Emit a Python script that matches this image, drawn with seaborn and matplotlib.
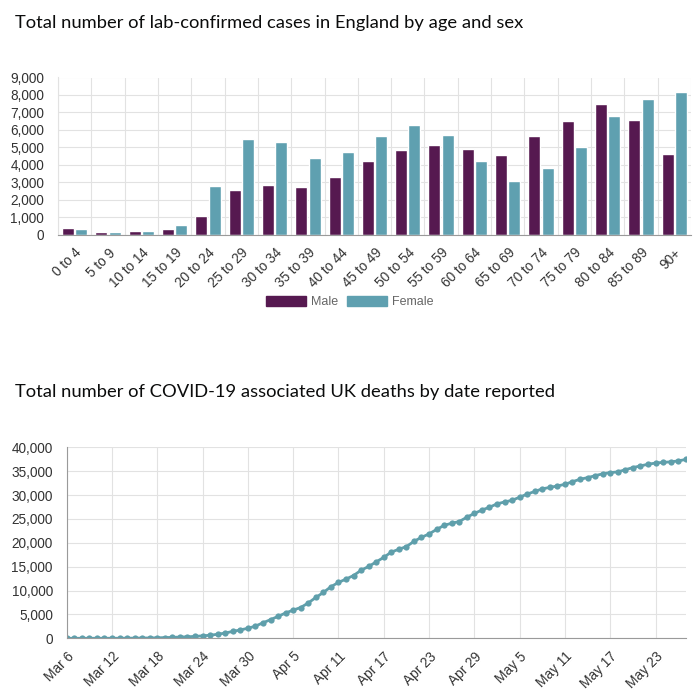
"""
COVID-19 dashboard recreation: lab-confirmed cases by age/sex (England)
and cumulative UK deaths by date reported.
"""

import numpy as np
import pandas as pd
import seaborn as sns
import matplotlib.pyplot as plt
import matplotlib.ticker as mticker
from matplotlib.patches import Patch

# ─── DATA ────────────────────────────────────────────────────────────────────
AGE_BANDS = ["0 to 4", "5 to 9", "10 to 14", "15 to 19", "20 to 24", "25 to 29",
             "30 to 34", "35 to 39", "40 to 44", "45 to 49", "50 to 54",
             "55 to 59", "60 to 64", "65 to 69", "70 to 74", "75 to 79",
             "80 to 84", "85 to 89", "90+"]
MALE_CASES = [400, 170, 190, 340, 1070, 2540, 2830, 2730, 3270, 4190, 4840,
              5120, 4910, 4530, 5660, 6530, 7470, 6550, 4600]
FEMALE_CASES = [310, 135, 190, 570, 2770, 5450, 5290, 4400, 4720, 5660, 6270,
                5710, 4200, 3040, 3820, 4990, 6800, 7760, 8180]

DEATHS_START = "2020-03-06"
CUMULATIVE_DEATHS = [
    # Mar 6 – Mar 31
    2, 3, 4, 5, 7, 9, 11, 14, 22, 36, 56, 72, 104, 145, 200, 260, 320, 400,
    520, 640, 850, 1100, 1450, 1750, 2100, 2550,
    # Apr 1 – Apr 30
    3250, 3900, 4600, 5300, 5900, 6450, 7400, 8550, 9600, 10800, 11700,
    12400, 13150, 14250, 15050, 16000, 16950, 18050, 18650, 19200, 20300,
    21150, 21850, 22800, 23650, 24100, 24450, 25350, 26150, 26850,
    # May 1 – May 27
    27450, 28150, 28550, 28900, 29550, 30200, 30750, 31300, 31600, 31900,
    32250, 32800, 33300, 33650, 34050, 34450, 34700, 34850, 35300, 35750,
    36100, 36450, 36700, 36850, 36950, 37150, 37450,
]

# ─── STYLE ───────────────────────────────────────────────────────────────────
MALE_C   = "#561950"
FEMALE_C = "#5fa0b0"
LINE_C   = "#5f9fab"
GRID_C   = "#e2e2e2"
AXIS_C   = "#9a9a9a"
TICK_TXT = "#333333"
TITLE_FONT = dict(fontsize=13.2, family="Lato", color="#0b0c0c", va="baseline")

sns.set_style("white")
plt.rcParams["font.family"] = ["Liberation Sans", "DejaVu Sans"]

comma_fmt = mticker.FuncFormatter(lambda v, _: f"{v:,.0f}")

fig = plt.figure(figsize=(7, 7), dpi=100)

# ─── CHART 1 : cases by age and sex ──────────────────────────────────────────
fig.text(15 / 700, 1 - 28 / 700,
         "Total number of lab-confirmed cases in England by age and sex",
         **TITLE_FONT)

ax1 = fig.add_axes([58 / 700, 1 - 234.5 / 700, 633 / 700, 157 / 700])
cases = pd.DataFrame({
    "age":   AGE_BANDS * 2,
    "sex":   ["Male"] * len(AGE_BANDS) + ["Female"] * len(AGE_BANDS),
    "cases": MALE_CASES + FEMALE_CASES,
})
sns.barplot(data=cases, x="age", y="cases", hue="sex",
            palette={"Male": MALE_C, "Female": FEMALE_C}, saturation=1,
            width=0.8, gap=0.1, legend=False, ax=ax1)

ax1.set_xlim(-0.5, len(AGE_BANDS) - 0.5)
ax1.set_ylim(0, 9000)
ax1.set_yticks(np.arange(0, 9001, 1000))
ax1.yaxis.set_major_formatter(comma_fmt)
ax1.set_xticks(np.arange(-0.5, len(AGE_BANDS), 1), minor=True)
ax1.grid(which="minor", axis="x", color=GRID_C, linewidth=0.8)
ax1.grid(which="major", axis="y", color=GRID_C, linewidth=0.8)
ax1.set_axisbelow(True)
ax1.tick_params(axis="x", which="major", length=0, pad=8, labelsize=9.8,
                labelcolor=TICK_TXT)
ax1.tick_params(axis="x", which="minor", length=7, color=GRID_C)
ax1.tick_params(axis="y", length=8, color=GRID_C, pad=2, labelsize=9.8,
                labelcolor=TICK_TXT)
plt.setp(ax1.get_xticklabels(), rotation=45, ha="right", rotation_mode="anchor")
ax1.set_xlabel("")
ax1.set_ylabel("")
for side in ("top", "right"):
    ax1.spines[side].set_visible(False)
ax1.spines["left"].set_color(GRID_C)
ax1.spines["bottom"].set_color(AXIS_C)

fig.legend(handles=[Patch(color=MALE_C, label="Male"),
                    Patch(color=FEMALE_C, label="Female")],
           loc="center", bbox_to_anchor=(350 / 700, 1 - 302 / 700), ncol=2,
           frameon=False, fontsize=9, labelcolor="#666666",
           handlelength=3.2, handleheight=0.9, handletextpad=0.4,
           columnspacing=0.7)

# ─── CHART 2 : cumulative deaths ─────────────────────────────────────────────
fig.text(15 / 700, 1 - 397 / 700,
         "Total number of COVID-19 associated UK deaths by date reported",
         **TITLE_FONT)

ax2 = fig.add_axes([66.7 / 700, 1 - 638.3 / 700, 619 / 700, 191 / 700])
dates = pd.date_range(DEATHS_START, periods=len(CUMULATIVE_DEATHS), freq="D")
deaths = pd.DataFrame({"date": dates, "deaths": CUMULATIVE_DEATHS})
sns.lineplot(data=deaths, x="date", y="deaths", color=LINE_C, linewidth=2,
             marker="o", markersize=4.5, markeredgewidth=0, ax=ax2)

ax2.set_xlim(dates[0], dates[-1])
ax2.set_ylim(0, 40000)
ax2.set_yticks(np.arange(0, 40001, 5000))
ax2.yaxis.set_major_formatter(comma_fmt)
tick_dates = dates[::6]
ax2.set_xticks(tick_dates)
ax2.set_xticklabels([d.strftime("%b %-d") for d in tick_dates])
ax2.grid(which="major", axis="both", color=GRID_C, linewidth=0.8)
ax2.set_axisbelow(True)
ax2.tick_params(axis="x", length=5, color=GRID_C, pad=3, labelsize=9.8,
                labelcolor=TICK_TXT)
ax2.tick_params(axis="y", length=8, color=GRID_C, pad=2, labelsize=9.8,
                labelcolor=TICK_TXT)
plt.setp(ax2.get_xticklabels(), rotation=45, ha="right", rotation_mode="anchor")
ax2.set_xlabel("")
ax2.set_ylabel("")
for side in ("top", "right"):
    ax2.spines[side].set_visible(False)
ax2.spines["left"].set_color(AXIS_C)
ax2.spines["bottom"].set_color(AXIS_C)

fig.savefig("out.png", dpi=100, facecolor="white")
